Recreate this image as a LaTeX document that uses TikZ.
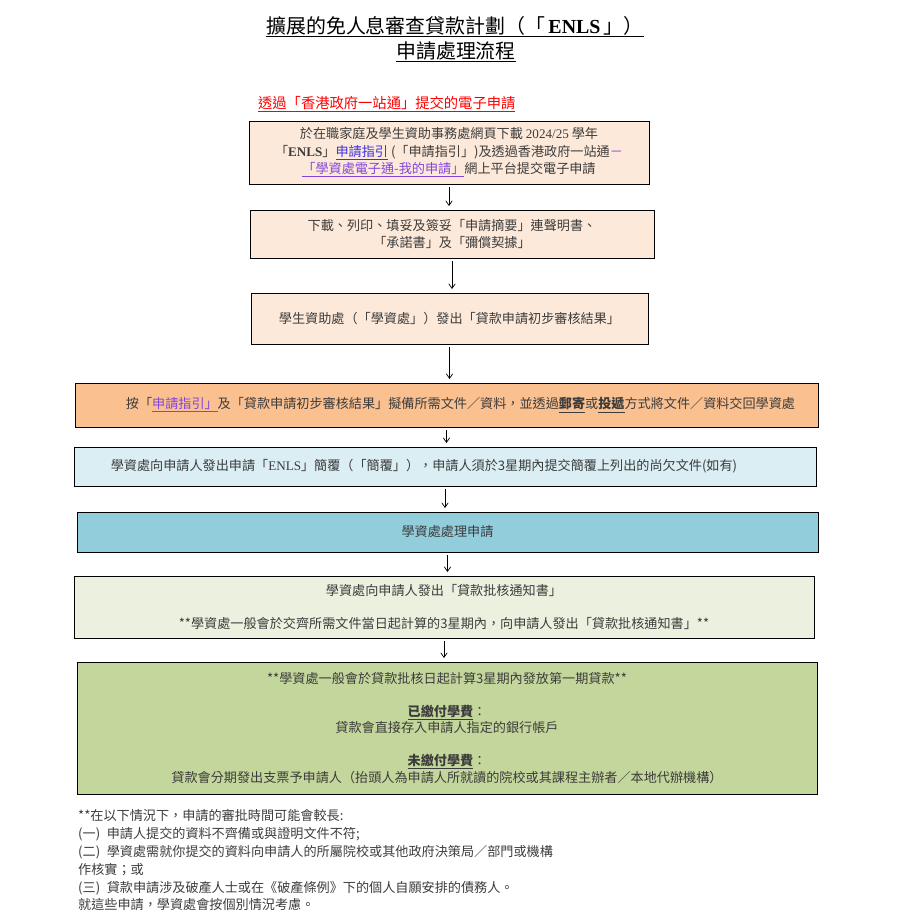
\documentclass[tikz,border=0pt]{standalone}
\usepackage{fontspec}
\setmainfont{Noto Sans CJK TC}
\newfontfamily\latin{Liberation Serif}
\usepackage{tikz}
\usetikzlibrary{arrows.meta}
\usepackage{xcolor}
\definecolor{textgray}{RGB}{60,60,60}
\definecolor{linkblue}{RGB}{60,50,230}
\definecolor{linkpurple}{RGB}{130,70,220}
\definecolor{headred}{RGB}{255,0,0}
\definecolor{peachbg}{RGB}{253,233,217}
\definecolor{orangebg}{RGB}{250,192,144}
\definecolor{paleblue}{RGB}{218,238,243}
\definecolor{midblue}{RGB}{146,205,220}
\definecolor{palegreen}{RGB}{235,241,222}
\definecolor{midgreen}{RGB}{195,214,155}
\newcommand\bodyfont{\fontsize{11.2}{14}\selectfont}

\begin{document}
\begin{tikzpicture}[x=0.03cm,y=-0.03cm,every node/.style={font=\bodyfont,text=textgray},
  box/.style={draw=black,line width=0.75pt,align=center,inner sep=0pt},
  flow/.style={-{Straight Barb[length=4pt,width=5.5pt]},line width=0.6pt,shorten <=2pt,shorten >=3pt}]
  \useasboundingbox (0,0) rectangle (900,917);
  \node[anchor=base,font=\fontsize{17}{20}\selectfont,text=black](t1) at(455,33){\underline{擴展的免人息審查貸款計劃（「{\latin\bfseries\,ENLS\,}」）}};
  \node[anchor=base,font=\fontsize{17}{20}\selectfont,text=black](t2) at(456,58){\underline{申請處理流程}};
  \node[anchor=base west,font=\fontsize{12.2}{14}\selectfont,text=headred](h) at(254,108){\underline{透過「香港政府一站通」提交的電子申請}};
  \node[box,fill=peachbg,minimum width=12cm,minimum height=1.89cm,font=\fontsize{11.2}{15}\selectfont](b1) at(449,152.5){於在職家庭及學生資助事務處網頁下載 {\latin 2024/25} 學年\\
    「{\latin\bfseries ENLS}」{\color{linkblue}\underline{申請指引}} (「申請指引」)及透過香港政府一站通{\color{linkpurple}－}\\
    {\color{linkpurple}\underline{「學資處電子通-我的申請」}}網上平台提交電子申請};
  \node[box,fill=peachbg,minimum width=12.12cm,minimum height=1.44cm](b2) at(452,234){下載、列印、填妥及簽妥「申請摘要」連聲明書、\\「承諾書」及「彌償契據」};
  \node[box,fill=peachbg,minimum width=11.91cm,minimum height=1.53cm](b3) at(449.5,318.5){學生資助處（「學資處」）發出「貸款申請初步審核結果」};
  \node[box,fill=orangebg,minimum width=22.29cm,minimum height=1.32cm](b4) at(446.5,405){\hspace*{0.84cm}按「{\color{linkpurple}\underline{申請指引」}}及「貸款申請初步審核結果」擬備所需文件／資料，並透過\underline{\textbf{郵寄}}或\underline{\textbf{投遞}}方式將文件／資料交回學資處};
  \node[box,fill=paleblue,minimum width=22.26cm,minimum height=1.17cm](b5) at(445,466.5){學資處向申請人發出申請「{\latin ENLS}」簡覆（「簡覆」），申請人須於3星期內提交簡覆上列出的尚欠文件(如有)\hspace*{1.26cm}};
  \node[box,fill=midblue,minimum width=22.23cm,minimum height=1.2cm](b6) at(447.5,532){學資處處理申請};
  \node[box,fill=palegreen,minimum width=22.2cm,minimum height=1.86cm](b7) at(444,607){學資處向申請人發出「貸款批核通知書」\\[14pt]
    **學資處一般會於交齊所需文件當日起計算的3星期內，向申請人發出「貸款批核通知書」**};
  \node[box,fill=midgreen,minimum width=22.2cm,minimum height=3.96cm](b8) at(447,728){**學資處一般會於貸款批核日起計算3星期內發放第一期貸款**\\[14pt]
    \underline{\textbf{已繳付學費}}：\\
    貸款會直接存入申請人指定的銀行帳戶\\[14pt]
    \underline{\textbf{未繳付學費}}：\\
    貸款會分期發出支票予申請人（抬頭人為申請人所就讀的院校或其課程主辦者／本地代辦機構）};
  \node[anchor=north west,align=left,inner sep=0pt,font=\fontsize{11.2}{15.3}\selectfont](n) at(78,809){**在以下情況下，申請的審批時間可能會較長:\\
    (一)\hspace{0.5em}申請人提交的資料不齊備或與證明文件不符;\\
    (二)\hspace{0.5em}學資處需就你提交的資料向申請人的所屬院校或其他政府決策局／部門或機構\\
    作核實；或\\
    (三)\hspace{0.5em}貸款申請涉及破產人士或在《破產條例》下的個人自願安排的債務人。\\
    就這些申請，學資處會按個別情況考慮。};
  \draw[flow](b1.south)--(b1.south |- b2.north);
  \draw[flow](b2.south)--(b2.south |- b3.north);
  \draw[flow](b3.south)--(b3.south |- b4.north);
  \draw[flow](b4.south)--(b4.south |- b5.north);
  \draw[flow](b5.south)--(b5.south |- b6.north);
  \draw[flow](b6.south)--(b6.south |- b7.north);
  \draw[flow](b7.south)--(b7.south |- b8.north);
\end{tikzpicture}
\end{document}
